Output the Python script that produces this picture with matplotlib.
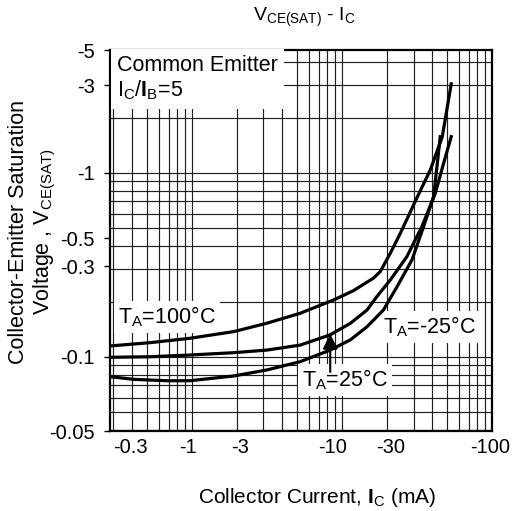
import matplotlib
matplotlib.use('Agg')
import matplotlib.pyplot as plt
import matplotlib.ticker as mticker

plt.rcParams['font.family'] = ['Liberation Sans', 'DejaVu Sans']
plt.rcParams['mathtext.fontset'] = 'custom'
plt.rcParams['mathtext.rm'] = 'Liberation Sans'
plt.rcParams['mathtext.it'] = 'Liberation Sans'
plt.rcParams['mathtext.bf'] = 'Liberation Sans:bold'

# ---- data (magnitudes; labels carry the minus sign) ----
ic_100 = [0.285, 0.527, 0.974, 1.894, 3.16, 5.27, 8.79, 11.9, 16.2, 18.0, 21.0, 24.5, 31.8, 38.8, 46.6, 53.5]
vce_100 = [0.1148, 0.1196, 0.1264, 0.1373, 0.1525, 0.1728, 0.204, 0.229, 0.268, 0.291, 0.366, 0.470, 0.741, 1.038, 1.57, 3.05]

ic_25 = [0.285, 0.527, 0.974, 1.894, 3.16, 5.27, 8.36, 11.4, 14.7, 17.1, 21.0, 27.1, 34.1, 41.9, 47.6, 53.5]
vce_25 = [0.0996, 0.1003, 0.1025, 0.1055, 0.109, 0.116, 0.132, 0.1525, 0.180, 0.213, 0.262, 0.351, 0.511, 0.776, 1.129, 1.575]

ic_m25 = [0.285, 0.408, 0.681, 0.974, 1.894, 3.16, 5.27, 8.36, 11.4, 14.7, 18.9, 23.3, 29.3, 35.0, 40.8, 43.1, 45.2]
vce_m25 = [0.0782, 0.0756, 0.0743, 0.0743, 0.0788, 0.0850, 0.0943, 0.109, 0.124, 0.146, 0.180, 0.241, 0.337, 0.511, 0.743, 1.105, 1.575]

x_tick_labels = ['-0.3', '-1', '-3', '-10', '-30', '-100']
x_tick_label_pos = [0.39, 0.95, 2.1, 8.7, 21.0, 97.0]
y_tick_labels = ['-5', '-3', '-1', '-0.5', '-0.3', '-0.1', '-0.05']
y_tick_label_pos = [4.66, 3.0, 1.0, 0.443, 0.312, 0.1, 0.0396]

fig = plt.figure(figsize=(5.14, 5.11), dpi=100)
ax = fig.add_axes([110/514, 1-431/511, 382/514, 381/511])
ax.set_xscale('log')
ax.set_yscale('log')
ax.set_xlim(0.285, 100)
ax.set_ylim(0.0396, 4.66)

ax.set_xticks(x_tick_label_pos, x_tick_labels)
ax.set_yticks(y_tick_label_pos, y_tick_labels)
ax.xaxis.set_minor_locator(mticker.LogLocator(base=10, subs=range(1, 10), numticks=50))
ax.yaxis.set_minor_locator(mticker.LogLocator(base=10, subs=range(1, 10), numticks=50))
ax.xaxis.set_minor_formatter(mticker.NullFormatter())
ax.yaxis.set_minor_formatter(mticker.NullFormatter())
ax.xaxis.remove_overlapping_locs = False
ax.yaxis.remove_overlapping_locs = False
ax.grid(which='minor', color='#202020', linewidth=0.85)
ax.grid(which='major', visible=False)
ax.set_axisbelow(True)
ax.tick_params(axis='x', which='major', length=0, pad=5, labelsize=14.5)
ax.tick_params(axis='y', which='major', length=4, width=1, pad=7, labelsize=14.5)
ax.tick_params(which='minor', length=0)
for s in ax.spines.values():
    s.set_linewidth(1.6)

for xs, ys in [(ic_100, vce_100), (ic_25, vce_25), (ic_m25, vce_m25)]:
    ax.plot(xs, ys, color='black', linewidth=2.3, zorder=5)

box = dict(boxstyle='square,pad=0.18', facecolor='white', edgecolor='none')
ax.text(0.318, 3.25, 'Common Emitter\n$\\mathregular{I_C}$/$\\mathbf{I}_\\mathregular{B}$=5',
        ha='left', va='center', fontsize=15.5, linespacing=1.15, zorder=4,
        bbox=dict(boxstyle='square,pad=0.3', facecolor='white', edgecolor='none'))
ax.text(0.323, 0.165, '$\\mathregular{T_A}$=100°C', ha='left', va='center', fontsize=15.5, zorder=4, bbox=box)
ax.text(18.9, 0.146, '$\\mathregular{T_A}$=-25°C', ha='left', va='center', fontsize=15.5, zorder=4, bbox=box)
ax.text(5.44, 0.075, '$\\mathregular{T_A}$=25°C', ha='left', va='center', fontsize=15.5, zorder=4, bbox=box)
ax.annotate('', xy=(8.36, 0.1334), xytext=(8.36, 0.0829),
            arrowprops=dict(arrowstyle='-|>,head_length=0.9,head_width=0.45', color='black', lw=1.5,
                            mutation_scale=10, shrinkA=0, shrinkB=0), zorder=6)

fig.text(304/514, 1-17/511, '$\\mathregular{V_{CE(SAT)}}$ - $\\mathregular{I_C}$', ha='center', va='center', fontsize=14)
fig.text(317/514, 1-497/511, 'Collector Current, $\\mathbf{I}_\\mathregular{C}$ (mA)', ha='center', va='center', fontsize=15)
fig.text(33/514, 1-232/511, 'Collector-Emitter Saturation\nVoltage , $\\mathregular{V_{CE(SAT)}}$',
         ha='center', va='center', rotation=90, multialignment='center', fontsize=15.5, linespacing=1.15)

fig.savefig('out.png', dpi=100)
